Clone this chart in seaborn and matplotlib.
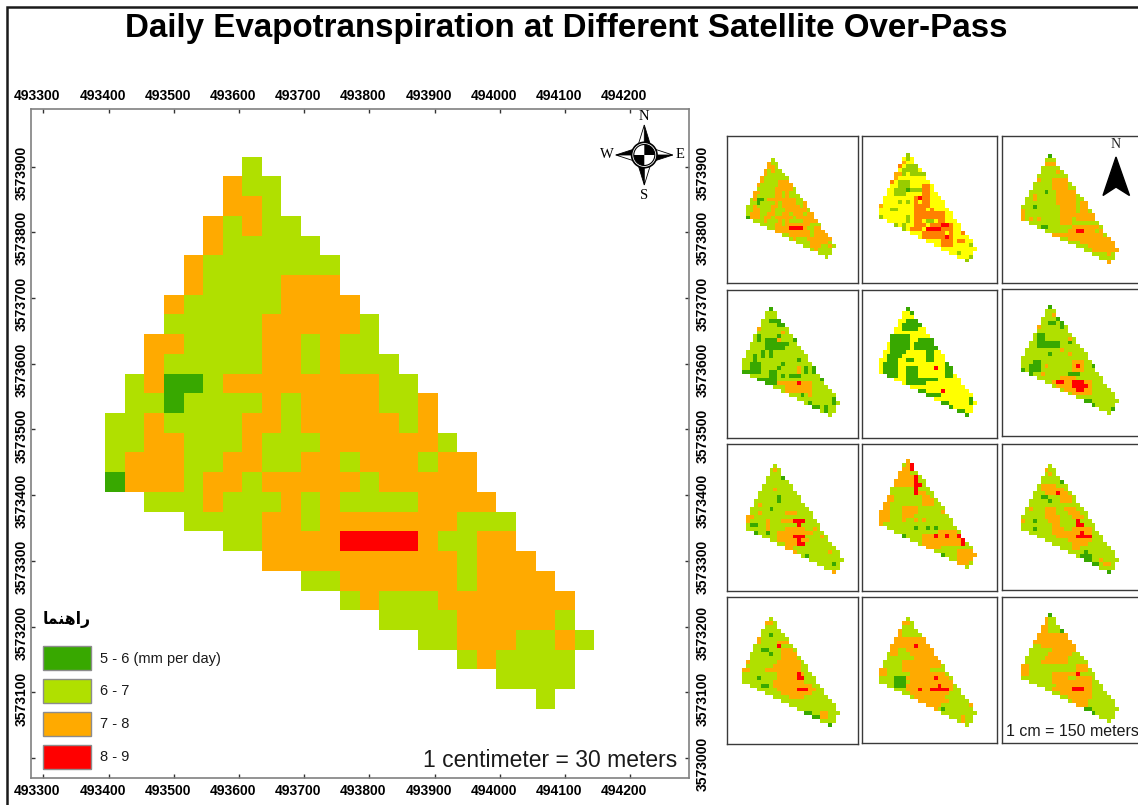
#!/usr/bin/env python3
"""Daily evapotranspiration maps: one large raster and twelve small ones."""

import numpy as np
import matplotlib
matplotlib.use("Agg")
import matplotlib.pyplot as plt
from matplotlib.colors import ListedColormap
from matplotlib.patches import Polygon, Rectangle, Circle, Wedge
from matplotlib.transforms import ScaledTranslation
import seaborn as sns

W, H = 1138, 805
FONT = "Liberation Sans"

TITLE = "Daily Evapotranspiration at Different Satellite Over-Pass"
X_TICKS = [493300, 493400, 493500, 493600, 493700, 493800, 493900, 494000, 494100, 494200]
Y_TICKS = [3573000, 3573100, 3573200, 3573300, 3573400, 3573500, 3573600, 3573700, 3573800, 3573900]
LEGEND_LABELS = ["5 - 6 (mm per day)", "6 - 7", "7 - 8", "8 - 9"]
LEGEND_CODES = ["D", "G", "O", "R"]

# D 5-6, G 6-7, O 7-8, R 8-9, plus the extra classes of the small maps
CODES = "DGORYAL"
COLORS = ["#38a800", "#b0e000", "#ffaa00", "#ff0000", "#ffff00", "#ff8000", "#98cc00"]

# large map, one row each: first column, then cell classes
MAIN_ROWS = [
    (7, "G"),
    (6, "OGG"),
    (6, "OOG"),
    (5, "OGOGG"),
    (5, "OGGGGG"),
    (4, "OGGGGGGG"),
    (4, "OGGGGOOO"),
    (3, "OGGGGGOOOO"),
    (3, "GGGGGOOOOOG"),
    (2, "OOGGGGOOGOGG"),
    (2, "OGGGGGOOGOGGG"),
    (1, "GODDGOOOOOOOOGG"),
    (1, "GGDGGGGOGOOOOGGO"),
    (0, "GGOGGGGOOGOOOOOGO"),
    (0, "GGOOGGGOGGGOOOOOOG"),
    (0, "GOOOGGOOGGOOGOOOGOO"),
    (0, "DOOOGOOGOOOOOGOOOOO"),
    (2, "GGGOGGGOGOGGGGOOOO"),
    (4, "GGGGOOGOOOOOOOGGG"),
    (6, "GGOOOORRRROGGOO"),
    (8, "OOOOOOOOOOGOOO"),
    (10, "GGOOOOOOGOOOO"),
    (12, "GOGGGOOOOOOO"),
    (14, "GGGGOOOOOG"),
    (16, "GGOOOGGOG"),
    (18, "GOGGGG"),
    (20, "GGGG"),
    (22, "G"),
]

# small maps: base class, then runs of (row, first col, last col, class)
P2 = [(0,7,7,"L"),(1,7,7,"L"),(2,6,6,"O"),(3,5,5,"A"),(3,7,9,"L"),(4,6,9,"L"),(5,4,5,"O"),(5,6,6,"L"),
      (5,8,11,"L"),(6,4,4,"O"),(7,3,3,"A"),(7,5,7,"L"),(8,5,7,"L"),(9,4,6,"L"),(9,7,7,"D"),(9,8,10,"L"),
      (10,4,6,"L"),(8,11,12,"A"),(9,11,12,"A"),(10,11,12,"A"),(11,9,12,"A"),(11,10,10,"R"),(12,9,12,"A"),
      (13,9,12,"A"),(14,9,13,"A"),(14,12,12,"Y"),(15,9,16,"A"),(16,9,16,"A"),(17,9,10,"A"),(17,12,13,"L"),
      (17,15,16,"A"),(18,9,11,"A"),(18,13,18,"A"),(18,16,17,"R"),(19,8,10,"A"),(19,12,15,"R"),(19,16,18,"A"),
      (20,11,15,"A"),(20,16,18,"A"),(20,17,17,"Y"),(20,21,21,"A"),(21,11,15,"A"),(21,16,18,"A"),(21,17,17,"R"),
      (22,16,18,"A"),(22,20,21,"A"),(23,16,18,"A"),(23,23,23,"L"),(25,20,20,"L"),(26,23,23,"L"),(27,22,22,"L"),
      (14,3,3,"L"),(14,4,4,"L"),(12,7,7,"L"),(12,5,5,"L"),(16,7,7,"L"),(17,7,7,"L"),(13,0,0,"O"),(16,0,0,"L"),
      (18,4,4,"L"),(18,6,6,"L"),(19,6,6,"L"),(12,10,10,"Y")]
P3 = [(0,7,7,"D"),(2,6,8,"O"),(4,9,9,"O"),(6,4,4,"O"),(9,6,6,"D"),(10,3,3,"O"),(11,3,3,"O"),(13,3,3,"D"),
      (14,0,0,"O"),(15,0,0,"O"),(16,0,0,"O"),(16,2,2,"O"),(16,4,4,"O"),(18,5,6,"D"),(6,8,11,"O"),(7,8,11,"O"),
      (8,8,11,"O"),(9,9,13,"O"),(10,9,13,"O"),(11,9,13,"O"),(12,9,13,"O"),(13,10,13,"O"),(14,10,13,"O"),
      (15,10,13,"O"),(16,10,12,"O"),(17,10,12,"O"),(12,15,16,"O"),(13,15,16,"O"),(14,15,16,"O"),(15,14,18,"O"),
      (16,14,18,"O"),(18,13,19,"O"),(19,12,20,"O"),(19,14,15,"R"),(19,19,19,"G"),(20,8,20,"O"),(21,12,22,"O"),
      (22,15,23,"O"),(23,17,23,"O"),(24,18,24,"O"),(25,22,22,"O"),(27,22,22,"O")]
P4 = [(0,7,7,"D"),(3,7,9,"D"),(4,9,10,"D"),(5,4,4,"O"),(6,10,10,"O"),(8,13,13,"D"),(7,4,4,"D"),(8,4,4,"D"),
      (8,6,8,"D"),(9,6,11,"D"),(10,6,10,"D"),(11,5,5,"D"),(12,5,5,"D"),(11,7,7,"D"),(12,7,7,"D"),(7,9,9,"D"),
      (8,9,9,"O"),(13,14,14,"D"),(12,3,3,"D"),(13,3,3,"D"),(14,2,4,"D"),(15,2,4,"D"),(16,0,4,"D"),(15,9,9,"D"),
      (16,7,8,"D"),(17,7,8,"D"),(18,4,8,"D"),(19,6,8,"D"),(14,10,10,"D"),(17,10,10,"D"),(17,12,14,"D"),
      (15,16,16,"D"),(16,16,16,"D"),(15,18,18,"D"),(16,18,18,"D"),(15,14,14,"O"),(16,14,14,"O"),(19,9,17,"O"),
      (19,14,14,"R"),(20,11,17,"O"),(21,11,17,"O"),(22,17,17,"O"),(22,15,15,"D"),(18,20,20,"D"),(24,17,17,"D"),
      (25,18,19,"D"),(25,21,21,"D"),(26,21,21,"D"),(23,23,23,"D"),(24,23,23,"D")]
P5 = [(0,7,7,"D"),(1,8,8,"D"),(3,7,9,"D"),(4,6,10,"D"),(5,6,9,"D"),(7,3,7,"D"),(8,3,7,"D"),(9,3,7,"D"),
      (10,3,7,"D"),(11,3,6,"D"),(8,10,13,"D"),(9,9,13,"D"),(10,9,14,"D"),(11,12,13,"D"),(12,12,13,"D"),
      (13,12,13,"D"),(12,2,5,"D"),(13,2,4,"D"),(14,1,4,"D"),(15,1,4,"D"),(16,1,4,"D"),(17,2,4,"D"),(13,7,8,"D"),
      (15,7,9,"D"),(16,7,9,"D"),(17,7,9,"D"),(18,7,14,"D"),(19,7,11,"D"),(14,17,18,"D"),(15,17,18,"D"),
      (16,17,18,"D"),(17,17,18,"D"),(15,14,14,"R"),(21,16,16,"R"),(21,10,11,"D"),(22,12,15,"D"),(24,16,17,"D"),
      (25,18,18,"D"),(26,20,21,"D"),(27,21,22,"D"),(23,23,24,"D"),(24,23,23,"D")]
P6 = [(0,7,7,"D"),(2,8,8,"O"),(3,9,9,"D"),(4,7,8,"D"),(4,10,10,"D"),(5,10,10,"D"),(5,4,4,"O"),(8,12,12,"O"),
      (9,12,12,"D"),(7,4,5,"D"),(8,4,5,"D"),(9,4,9,"D"),(10,4,9,"D"),(11,10,10,"O"),(12,12,12,"O"),(12,7,7,"D"),
      (14,3,4,"D"),(15,2,4,"D"),(16,2,4,"D"),(16,0,0,"D"),(17,2,2,"D"),(15,6,6,"O"),(17,5,5,"O"),(15,18,18,"D"),
      (14,13,15,"O"),(15,13,15,"O"),(15,14,14,"R"),(16,13,15,"O"),(17,12,14,"D"),(18,10,13,"O"),(19,8,17,"O"),
      (19,9,10,"R"),(19,13,15,"R"),(20,9,17,"O"),(20,13,16,"R"),(21,11,17,"O"),(21,14,15,"R"),(22,13,17,"O"),
      (24,16,17,"D"),(25,18,18,"D"),(26,23,23,"D")]
P7 = [(1,7,7,"O"),(3,9,9,"D"),(6,7,7,"O"),(8,8,8,"D"),(9,8,8,"D"),(10,3,3,"O"),(11,6,6,"D"),(12,3,3,"O"),
      (13,0,1,"O"),(14,0,0,"O"),(14,5,5,"O"),(15,5,5,"O"),(16,5,5,"O"),(15,1,2,"D"),(17,2,2,"D"),(17,5,5,"D"),
      (12,10,12,"O"),(14,9,13,"O"),(14,12,14,"R"),(15,13,13,"R"),(16,10,14,"O"),(16,17,17,"O"),(17,8,16,"O"),
      (18,8,13,"O"),(18,12,14,"R"),(18,19,19,"O"),(19,8,15,"O"),(19,13,13,"R"),(20,10,12,"O"),(20,13,14,"R"),
      (21,10,11,"O"),(22,12,12,"O"),(22,21,21,"O"),(23,15,15,"D"),(25,22,22,"D"),(27,22,22,"O")]
P8 = [(0,7,7,"O"),(1,7,7,"O"),(1,8,8,"R"),(2,6,7,"O"),(2,8,8,"R"),(3,5,7,"O"),(4,5,8,"O"),(4,9,9,"R"),
      (5,4,8,"O"),(5,9,9,"R"),(6,4,8,"O"),(6,9,10,"R"),(7,9,9,"R"),(8,9,9,"R"),(8,10,11,"O"),(9,11,12,"O"),
      (10,11,13,"O"),(11,11,13,"O"),(12,6,9,"O"),(13,6,9,"O"),(14,6,8,"O"),(9,2,3,"O"),(10,2,3,"O"),(11,1,2,"O"),
      (12,1,2,"O"),(13,0,2,"O"),(14,0,2,"O"),(15,0,2,"O"),(16,0,0,"O"),(13,16,16,"O"),(15,9,9,"O"),(15,11,11,"O"),
      (15,6,6,"O"),(17,9,9,"D"),(17,12,12,"D"),(17,14,14,"D"),(19,6,6,"D"),(24,16,16,"D"),(18,15,19,"O"),
      (19,11,20,"O"),(19,14,14,"R"),(19,17,17,"R"),(19,20,20,"R"),(20,11,20,"O"),(20,21,21,"R"),(21,11,20,"O"),
      (21,21,21,"R"),(22,12,15,"O"),(23,20,23,"O"),(24,20,24,"O"),(25,20,23,"O"),(26,20,22,"O")]
P9 = [(1,6,6,"O"),(2,7,7,"O"),(4,10,10,"D"),(5,5,8,"O"),(6,5,10,"O"),(7,6,8,"O"),(7,9,9,"R"),
      (7,10,11,"O"),(8,10,12,"O"),(9,10,12,"O"),(8,5,6,"D"),(9,7,7,"D"),(11,6,8,"O"),(12,6,8,"O"),(13,6,9,"O"),
      (14,7,9,"O"),(15,8,9,"O"),(16,8,10,"O"),(17,8,11,"O"),(18,9,10,"O"),(11,11,13,"O"),(12,12,14,"O"),
      (13,13,15,"O"),(14,14,14,"R"),(15,14,15,"R"),(16,13,17,"O"),(17,12,17,"O"),(17,15,15,"R"),(18,11,13,"O"),
      (18,14,17,"R"),(19,12,17,"O"),(20,13,16,"O"),(21,13,14,"O"),(14,3,3,"D"),(16,3,3,"D"),(11,2,2,"O"),
      (14,0,0,"O"),(22,16,16,"D"),(23,15,17,"D"),(24,16,17,"D"),(25,18,19,"D"),(27,22,22,"D"),(24,20,20,"O"),
      (25,21,22,"O")]
P10 = [(1,6,7,"O"),(4,7,7,"D"),(5,4,4,"O"),(6,4,4,"O"),(6,9,11,"O"),(7,9,9,"R"),(8,5,6,"D"),(9,7,7,"D"),
       (8,10,12,"O"),(9,10,13,"O"),(10,10,13,"O"),(11,9,14,"O"),(11,1,1,"O"),(12,8,14,"O"),(13,6,14,"O"),
       (13,0,1,"O"),(14,9,15,"O"),(14,14,14,"R"),(15,9,13,"O"),(15,14,15,"R"),(15,4,4,"D"),(16,8,15,"O"),
       (17,5,6,"D"),(17,8,17,"O"),(18,9,18,"O"),(18,14,16,"R"),(19,10,17,"O"),(20,12,15,"O"),(24,16,17,"D"),
       (25,18,19,"D"),(24,20,21,"O"),(25,20,21,"O"),(27,22,22,"D")]
P11 = [(1,6,7,"O"),(3,5,5,"O"),(4,5,5,"O"),(5,4,11,"O"),(6,3,11,"O"),(7,3,12,"O"),(7,9,9,"R"),(8,3,4,"O"),
       (8,7,13,"O"),(9,3,4,"O"),(9,8,13,"O"),(10,9,14,"O"),(11,6,15,"O"),(12,6,15,"O"),(13,6,12,"O"),(13,0,1,"O"),
       (14,0,1,"O"),(14,8,16,"O"),(15,7,13,"O"),(15,14,14,"R"),(15,15,17,"O"),(15,4,6,"D"),(16,4,6,"D"),
       (17,4,6,"D"),(16,8,18,"O"),(17,7,18,"O"),(17,15,15,"R"),(18,7,18,"O"),(18,10,10,"R"),(18,13,17,"R"),
       (19,8,17,"O"),(20,9,16,"O"),(21,10,17,"O"),(22,12,15,"O"),(22,23,23,"O"),(23,13,14,"O"),(23,16,16,"D"),
       (25,21,21,"O"),(26,21,21,"O")]
P12 = [(0,7,7,"D"),(1,6,6,"O"),(2,6,6,"O"),(3,5,6,"O"),(4,5,6,"O"),(4,10,10,"D"),(5,4,11,"O"),(6,4,12,"O"),
       (7,3,12,"O"),(8,5,13,"O"),(9,8,13,"O"),(10,7,12,"O"),(11,6,11,"O"),(12,5,11,"O"),(13,0,1,"O"),(14,0,1,"O"),
       (15,0,1,"O"),(13,14,16,"O"),(14,14,16,"O"),(15,8,13,"O"),(15,14,14,"R"),(16,8,11,"O"),(16,14,17,"O"),
       (17,8,12,"O"),(17,13,17,"O"),(18,9,17,"O"),(19,8,12,"O"),(19,13,15,"R"),(19,16,17,"O"),(20,10,17,"O"),
       (21,12,17,"O"),(22,13,16,"O"),(23,14,16,"O"),(24,16,17,"D"),(25,18,18,"D")]

PANEL_BASES = ["G", "Y", "G", "G", "Y", "G", "G", "G", "G", "G", "G", "G"]
PANEL_RUNS = [[], P2, P3, P4, P5, P6, P7, P8, P9, P10, P11, P12]

# pixel layout of the reference
MAIN_BOX = (31, 109, 689, 778)
MAIN_ORIGIN = (105.3, 156.7)
MAIN_CELL = (19.56, 19.72)
GRID_X0, GRID_Y0 = 493395, 3573915
METERS = 30
PANEL_BOXES = [(727, 136, 858, 283), (862, 136, 997, 283), (1002, 136, 1145, 283),
               (727, 290, 858, 438), (862, 290, 997, 438), (1002, 289, 1145, 436),
               (727, 444, 858, 591), (862, 444, 997, 591), (1002, 444, 1145, 590),
               (727, 597, 858, 744), (862, 597, 997, 743), (1002, 597, 1145, 743)]
PANEL_ORIGINS = [(746, 158.3), (878.7, 152.7), (1021, 154.3),
                 (741.7, 307), (878.7, 307), (1021, 305.3),
                 (746, 464), (878.7, 459.3), (1021, 464),
                 (741.7, 617), (878.7, 617), (1021, 613)]
PANEL_CELLS = [3.58, 3.92, 3.92, 3.92, 3.92, 3.92, 3.92, 3.92, 3.92, 3.92, 3.92, 3.92]


def main_grid():
    grid = np.full((len(MAIN_ROWS), 25), np.nan)
    for r, (start, cells) in enumerate(MAIN_ROWS):
        for i, code in enumerate(cells):
            grid[r, start + i] = CODES.index(code)
    return grid


def small_grid(base, runs):
    grid = np.where(np.isnan(MAIN_GRID), np.nan, CODES.index(base))
    for r, c0, c1, code in runs:
        keep = ~np.isnan(MAIN_GRID[r, c0:c1 + 1])
        grid[r, c0:c1 + 1][keep] = CODES.index(code)
    return grid


def box_axes(fig, box):
    l, t, r, b = box
    return fig.add_axes([l / W, 1 - b / H, (r - l) / W, (b - t) / H])


def draw_raster(ax, grid):
    sns.heatmap(grid, ax=ax, cmap=CMAP, vmin=-0.5, vmax=len(CODES) - 0.5, cbar=False,
                xticklabels=False, yticklabels=False)
    for spine in ax.spines.values():
        spine.set_visible(True)


def draw_main(fig):
    ax = box_axes(fig, MAIN_BOX)
    draw_raster(ax, MAIN_GRID)
    l, t, r, b = MAIN_BOX
    ax.set_xlim((l - MAIN_ORIGIN[0]) / MAIN_CELL[0], (r - MAIN_ORIGIN[0]) / MAIN_CELL[0])
    ax.set_ylim((b - MAIN_ORIGIN[1]) / MAIN_CELL[1], (t - MAIN_ORIGIN[1]) / MAIN_CELL[1])

    ax.set_xticks([(x - GRID_X0) / METERS for x in X_TICKS])
    ax.set_xticklabels([str(x) for x in X_TICKS], fontsize=10, fontweight="bold", family=FONT)
    ax.set_yticks([(GRID_Y0 - y) / METERS for y in Y_TICKS])
    ax.set_yticklabels([str(y) for y in Y_TICKS], fontsize=10, fontweight="bold", family=FONT,
                       rotation=90, va="center")
    ax.tick_params(axis="both", direction="in", length=3, width=1, color="#333333", labelcolor="black",
                   top=True, right=True, bottom=True, left=True,
                   labeltop=True, labelright=True, labelbottom=True, labelleft=True)
    ax.tick_params(axis="x", pad=4)
    ax.tick_params(axis="y", pad=4)
    for spine in ax.spines.values():
        spine.set_color("#808080")
        spine.set_linewidth(1.2)

    shift_x = ScaledTranslation(-6 / 100, 0, fig.dpi_scale_trans)
    shift_left = ScaledTranslation(3 / 100, -6 / 100, fig.dpi_scale_trans)
    shift_right = ScaledTranslation(1 / 100, -6 / 100, fig.dpi_scale_trans)
    for tick in ax.xaxis.get_major_ticks():
        tick.label1.set_transform(tick.label1.get_transform() + shift_x)
        tick.label2.set_transform(tick.label2.get_transform() + shift_x)
        tick.label2.set(fontsize=10, fontweight="bold", family=FONT)
    for tick in ax.yaxis.get_major_ticks():
        tick.label1.set_transform(tick.label1.get_transform() + shift_left)
        tick.label2.set_transform(tick.label2.get_transform() + shift_right)
        tick.label2.set(fontsize=10, fontweight="bold", family=FONT, rotation=90, va="center")
    # the lowest northing is only labelled on the right side
    ax.yaxis.get_major_ticks()[0].label1.set_visible(False)


def draw_panels(fig):
    for i, box in enumerate(PANEL_BOXES):
        ax = box_axes(fig, box)
        grid = MAIN_GRID if i == 0 else small_grid(PANEL_BASES[i], PANEL_RUNS[i])
        draw_raster(ax, grid)
        l, t, r, b = box
        ox, oy = PANEL_ORIGINS[i]
        cell = PANEL_CELLS[i]
        ax.set_xlim((l - ox) / cell, (r - ox) / cell)
        ax.set_ylim((b - oy) / cell, (t - oy) / cell)
        ax.set_xticks([])
        ax.set_yticks([])
        for spine in ax.spines.values():
            spine.set_color("#3a3a3a")
            spine.set_linewidth(1.0)


def draw_compass(ov):
    cx, cy = 644.3, 155
    for dx, dy, nx, ny in [(0, -30, 1, 0), (28.5, 0, 0, 1), (0, 30, -1, 0), (-28.5, 0, 0, -1)]:
        tip = (cx + dx, cy + dy)
        black = [tip, (cx + nx * 6 + dx * 0.35, cy + ny * 6 + dy * 0.35), (cx + dx * 0.35, cy + dy * 0.35)]
        white = [tip, (cx - nx * 6 + dx * 0.35, cy - ny * 6 + dy * 0.35), (cx + dx * 0.35, cy + dy * 0.35)]
        ov.add_patch(Polygon(black, color="black", lw=0.6, zorder=5))
        ov.add_patch(Polygon(white, fc="white", ec="black", lw=0.6, zorder=5))
    ov.add_patch(Circle((cx, cy), 12.7, fc="white", ec="black", lw=1.2, zorder=6))
    ov.add_patch(Wedge((cx, cy), 10.5, 270, 360, color="black", lw=0, zorder=7))
    ov.add_patch(Wedge((cx, cy), 10.5, 90, 180, color="black", lw=0, zorder=7))
    ov.add_patch(Circle((cx, cy), 10.5, fc="none", ec="black", lw=0.8, zorder=7))
    for label, x, y in [("N", 644.3, 117), ("S", 644.3, 195), ("W", 606.5, 155), ("E", 680, 155)]:
        ov.text(x, y, label, family="Liberation Serif", fontsize=10.5, ha="center", va="center", zorder=8)


def draw_overlay(fig):
    ov = fig.add_axes([0, 0, 1, 1], facecolor="none")
    ov.set_xlim(0, W)
    ov.set_ylim(H, 0)
    ov.axis("off")

    # outer frame
    ov.plot([7.5, 7.5, W], [H, 7.5, 7.5], color="#1a1a1a", lw=1.8, solid_joinstyle="miter")

    ov.text(566.5, 29, TITLE, family=FONT, fontweight="bold", fontsize=23.9, ha="center", va="center")

    # legend
    tops = [646, 678.5, 711.5, 744.5]
    for top, code, label in zip(tops, LEGEND_CODES, LEGEND_LABELS):
        ov.add_patch(Rectangle((43.3, top), 48, 24, fc=COLORS[CODES.index(code)], ec="#8c8c8c", lw=1))
        ov.text(100, top + 12.5, label, family=FONT, fontsize=10.5, ha="left", va="center", color="#1a1a1a")
    # راهنما written with shaped glyphs in display order
    ov.text(43, 619, "\ufe8e\ufee4\ufee8\ufeeb\ufe8d\ufead", family="DejaVu Sans", stretch="condensed",
            fontweight="bold", fontsize=12.5, ha="left", va="center")

    ov.text(677, 760, "1 centimeter = 30 meters", family=FONT, fontsize=16.5, ha="right", va="center",
            color="#1a1a1a")
    ov.text(1006, 731.5, "1 cm = 150 meters", family=FONT, fontsize=11.5, ha="left", va="center", color="#1a1a1a")

    draw_compass(ov)

    # north arrow of the small maps
    ov.add_patch(Polygon([(1116, 157), (1129.5, 195.5), (1116, 187), (1103, 195.5)], color="black"))
    ov.text(1116, 145, "N", family="Liberation Serif", fontsize=10, ha="center", va="center", color="#222222")


MAIN_GRID = main_grid()
CMAP = ListedColormap(COLORS)


def main():
    sns.set_theme(style="white")
    plt.rcParams["font.family"] = [FONT, "DejaVu Sans"]
    plt.rcParams["text.color"] = "black"
    fig = plt.figure(figsize=(W / 100, H / 100), dpi=100, facecolor="white")
    draw_main(fig)
    draw_panels(fig)
    draw_overlay(fig)
    fig.savefig("out.png", dpi=100)
    plt.close(fig)


if __name__ == "__main__":
    main()
